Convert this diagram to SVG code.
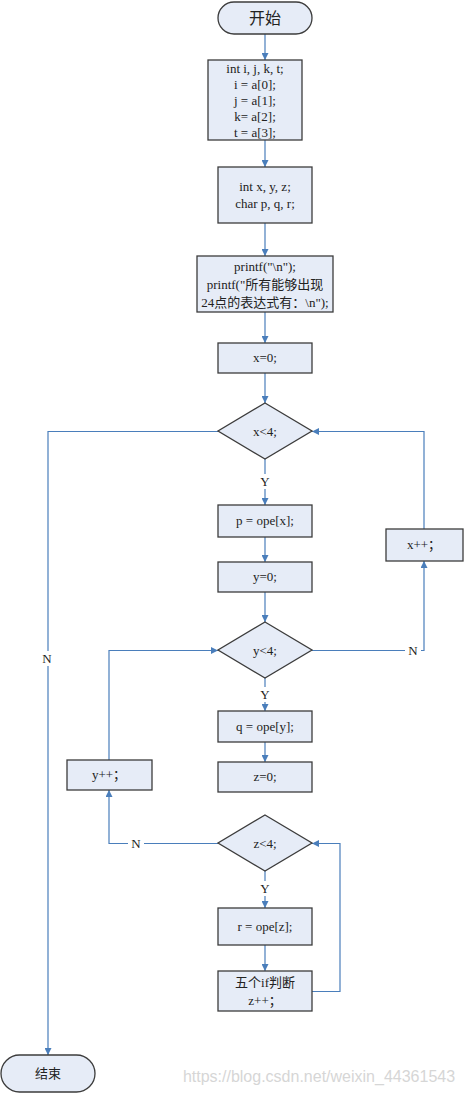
<svg xmlns="http://www.w3.org/2000/svg" width="464" height="1094" viewBox="0 0 464 1094">
<style>
.n{fill:#e6ecf7;stroke:#3c3c3c;stroke-width:1.3}
.t{font-family:"Liberation Serif","Noto Sans CJK SC",serif;font-size:13px;fill:#222;text-anchor:middle}
.s{font-family:"Liberation Sans","Noto Sans CJK SC",sans-serif;fill:#222;text-anchor:middle}
.c{fill:none;stroke:#4a7ebb;stroke-width:1.2}
.l{font-family:"Liberation Serif",serif;font-size:13px;fill:#222;text-anchor:middle}
</style>
<defs>
<marker id="a" viewBox="0 0 10 10" refX="10" refY="5" markerWidth="7" markerHeight="7" markerUnits="userSpaceOnUse" orient="auto">
<path d="M0,0 L10,5 L0,10 z" fill="#4a7ebb"/>
</marker>
</defs>
<rect width="464" height="1094" fill="#fff"/>
<g id="connectors">
<path class="c" d="M265,34 V60" marker-end="url(#a)"/>
<path class="c" d="M265,140 V167" marker-end="url(#a)"/>
<path class="c" d="M265,223 V256" marker-end="url(#a)"/>
<path class="c" d="M265,312 V343" marker-end="url(#a)"/>
<path class="c" d="M265,373 V403" marker-end="url(#a)"/>
<path class="c" d="M265,459 V505" marker-end="url(#a)"/>
<path class="c" d="M265,537 V562" marker-end="url(#a)"/>
<path class="c" d="M265,592 V622" marker-end="url(#a)"/>
<path class="c" d="M265,678 V711" marker-end="url(#a)"/>
<path class="c" d="M265,742 V762" marker-end="url(#a)"/>
<path class="c" d="M265,871 V908" marker-end="url(#a)"/>
<path class="c" d="M265,945 V971" marker-end="url(#a)"/>
<path class="c" d="M424,529 V431.5 H312" marker-end="url(#a)"/>
<path class="c" d="M312,650.5 H424 V561" marker-end="url(#a)"/>
<path class="c" d="M218,431.5 H48 V1055" marker-end="url(#a)"/>
<path class="c" d="M109,760 V650.5 H218" marker-end="url(#a)"/>
<path class="c" d="M218,843.5 H109 V790" marker-end="url(#a)"/>
<path class="c" d="M312,991.5 H340 V843.5 H312" marker-end="url(#a)"/>
<rect x="258" y="474" width="14" height="15" fill="#fff"/>
<text class="l" x="265" y="486">Y</text>
<rect x="258" y="687" width="14" height="15" fill="#fff"/>
<text class="l" x="265" y="699">Y</text>
<rect x="258" y="881" width="14" height="15" fill="#fff"/>
<text class="l" x="265" y="893">Y</text>
<rect x="40" y="651" width="15" height="15" fill="#fff"/>
<text class="l" x="47" y="663">N</text>
<rect x="405" y="643" width="16" height="15" fill="#fff"/>
<text class="l" x="413" y="655">N</text>
<rect x="128" y="836" width="16" height="15" fill="#fff"/>
<text class="l" x="136" y="848">N</text>
</g>
<g id="start">
<rect class="n" x="218" y="2" width="94" height="32" rx="16"/>
<text class="s" x="265" y="24" font-size="16">开始</text>
</g>
<g id="box1">
<rect class="n" x="208" y="60" width="94" height="80"/>
<text class="t" x="255" y="73">int i, j, k, t;</text>
<text class="t" x="255" y="89">i = a[0];</text>
<text class="t" x="255" y="105">j = a[1];</text>
<text class="t" x="255" y="121">k= a[2];</text>
<text class="t" x="255" y="137">t = a[3];</text>
</g>
<g id="box2">
<rect class="n" x="218" y="167" width="94" height="56"/>
<text class="t" x="265" y="191">int x, y, z;</text>
<text class="t" x="265" y="208">char p, q, r;</text>
</g>
<g id="box3">
<rect class="n" x="197" y="256" width="136" height="56"/>
<text class="t" x="265" y="271">printf("\n");</text>
<text class="t" x="265" y="289">printf("所有能够出现</text>
<text class="t" x="265" y="307">24点的表达式有：\n");</text>
</g>
<g id="x0">
<rect class="n" x="218" y="343" width="94" height="30"/>
<text class="t" x="265" y="362">x=0;</text>
</g>
<g id="dx">
<path class="n" d="M265,403 L312,431 L265,459 L218,431 Z"/>
<text class="t" x="265" y="436">x&lt;4;</text>
</g>
<g id="p">
<rect class="n" x="218" y="505" width="94" height="32"/>
<text class="t" x="265" y="525">p = ope[x];</text>
</g>
<g id="xpp">
<rect class="n" x="386" y="529" width="77" height="32"/>
<text class="t" x="424" y="549">x++；</text>
</g>
<g id="y0">
<rect class="n" x="218" y="562" width="94" height="30"/>
<text class="t" x="265" y="581">y=0;</text>
</g>
<g id="dy">
<path class="n" d="M265,622 L312,650 L265,678 L218,650 Z"/>
<text class="t" x="265" y="655">y&lt;4;</text>
</g>
<g id="q">
<rect class="n" x="218" y="711" width="94" height="31"/>
<text class="t" x="265" y="731">q = ope[y];</text>
</g>
<g id="ypp">
<rect class="n" x="67" y="760" width="85" height="30"/>
<text class="t" x="109" y="779">y++；</text>
</g>
<g id="z0">
<rect class="n" x="218" y="762" width="94" height="30"/>
<text class="t" x="265" y="781">z=0;</text>
</g>
<g id="dz">
<path class="n" d="M265,815 L312,843 L265,871 L218,843 Z"/>
<text class="t" x="265" y="848">z&lt;4;</text>
</g>
<g id="r">
<rect class="n" x="218" y="908" width="94" height="37"/>
<text class="t" x="265" y="931">r = ope[z];</text>
</g>
<g id="five">
<rect class="n" x="218" y="971" width="94" height="40"/>
<text class="t" x="265" y="987">五个if判断</text>
<text class="t" x="265" y="1005">z++；</text>
</g>
<g id="end">
<rect class="n" x="1" y="1055" width="94" height="37" rx="18.5"/>
<text class="s" x="48" y="1078" font-size="13">结束</text>
</g>
<text x="319" y="1082" font-family="Liberation Sans, sans-serif" font-size="16" fill="#d6d6d6" text-anchor="middle">https://blog.csdn.net/weixin_44361543</text>
</svg>
